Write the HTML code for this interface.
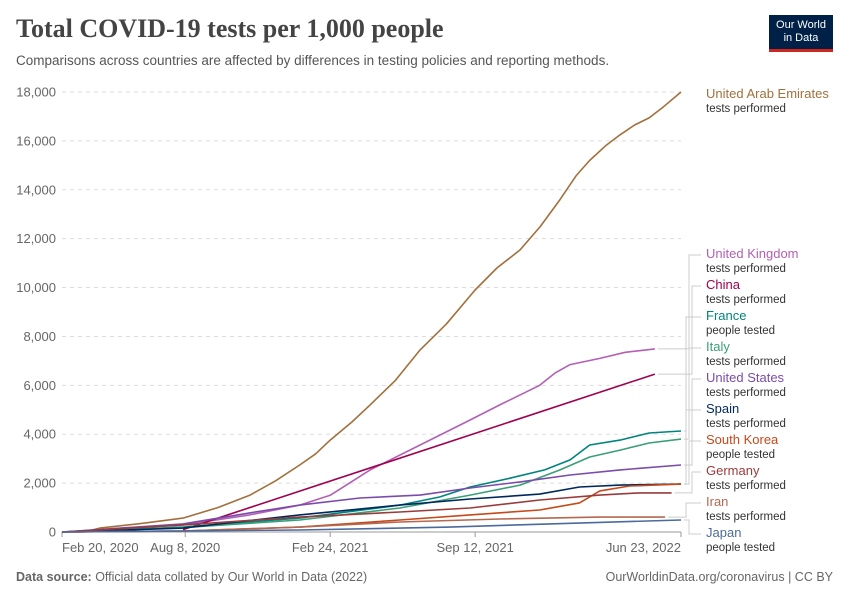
<!DOCTYPE html>
<html><head><meta charset="utf-8"><style>
body{margin:0;background:#fff;width:850px;height:600px;overflow:hidden;font-family:"Liberation Sans",sans-serif;}
#t{position:absolute;left:16px;top:14px;font-family:"Liberation Serif",serif;font-size:26px;font-weight:bold;color:#444;}
#s{position:absolute;left:16px;top:53px;font-size:13.5px;color:#555;}
#logo{position:absolute;left:769px;top:15px;width:64px;height:37px;background:#002147;color:#fff;font-size:11px;text-align:center;line-height:13px;padding-top:4px;box-sizing:border-box;border-bottom:3px solid #ce261e;}
#fl{position:absolute;left:16px;top:570px;font-size:12.5px;color:#666;}
#fr{position:absolute;right:17px;top:570px;font-size:12.5px;color:#666;}
</style></head><body>
<div id="t">Total COVID-19 tests per 1,000 people</div>
<div id="s">Comparisons across countries are affected by differences in testing policies and reporting methods.</div>
<div id="logo">Our World<br>in Data</div>
<div id="fl"><b>Data source:</b> Official data collated by Our World in Data (2022)</div>
<div id="fr">OurWorldinData.org/coronavirus | CC BY</div>
<svg id="c" width="850" height="600" style="position:absolute;left:0;top:0"></svg>
<script>
const yTicks=[0,2000,4000,6000,8000,10000,12000,14000,16000,18000];
const xTickDays=[0,170,370,570,854];
const xTickLabels=["Feb 20, 2020","Aug 8, 2020","Feb 24, 2021","Sep 12, 2021","Jun 23, 2022"];
const seriesNames=["United Arab Emirates","United Kingdom","China","France","Italy","United States","Spain","South Korea","Germany","Iran","Japan"];
const seriesSub=["tests performed","tests performed","tests performed","people tested","tests performed","tests performed","tests performed","people tested","tests performed","tests performed","people tested"];
const seriesColors=["#a2703c","#b35fb4","#a0004f","#00847e","#3a9f77","#7b4bab","#00295b","#c6491a","#9a3b3b","#b46850","#4c6a9c"];
const uae=[[0,0],[30,0],[52,160],[110,350],[167,570],[215,1000],[259,1500],[295,2100],[328,2740],[350,3200],[370,3760],[400,4500],[425,5200],[460,6200],[494,7450],[530,8500],[570,9900],[600,10800],[632,11540],[660,12500],[687,13600],[710,14600],[728,15200],[750,15800],[770,16250],[790,16650],[810,16940],[830,17400],[854,18000]];
const uk=[[0,0],[167,290],[259,700],[328,1100],[370,1500],[425,2540],[494,3560],[563,4580],[604,5200],[659,6000],[680,6500],[701,6850],[742,7100],[777,7350],[818,7490]];
const china=[[167,100],[818,6460]];
const france=[[0,0],[167,200],[328,570],[466,1100],[521,1430],[563,1840],[618,2200],[666,2540],[701,2950],[728,3560],[770,3760],[810,4050],[854,4130]];
const italy=[[0,0],[167,180],[328,490],[466,980],[563,1510],[632,1920],[687,2540],[728,3070],[770,3350],[810,3640],[854,3800]];
const us=[[0,0],[167,330],[259,780],[328,1100],[411,1390],[494,1510],[563,1800],[632,2050],[701,2330],[770,2540],[854,2740]];
const spain=[[0,0],[167,160],[328,700],[466,1100],[563,1350],[659,1550],[714,1840],[770,1920],[854,1960]];
const korea=[[0,0],[167,40],[328,200],[466,490],[563,700],[659,900],[714,1190],[742,1680],[783,1880],[854,1960]];
const germany=[[0,0],[167,290],[328,610],[466,820],[563,980],[659,1310],[742,1510],[797,1600],[841,1600]];
const iran=[[0,0],[167,40],[328,200],[466,410],[604,530],[742,610],[832,610]];
const japan=[[0,0],[328,80],[535,200],[673,330],[854,490]];
const allSeries=[uae,uk,china,france,italy,us,spain,korea,germany,iran,japan];
const labelY=[93,253,284,315,346,377,408,439,470,501,532];
const X0=62,X1=681,Y0=532,Y1=92,DMAX=854,VMAX=18000;
const xs=d=>X0+d/DMAX*(X1-X0), ys=v=>Y0-v/VMAX*(Y0-Y1);
const svg=document.getElementById('c'),NS="http://www.w3.org/2000/svg";
function mk(t,a,p){const e=document.createElementNS(NS,t);for(const k in a)e.setAttribute(k,a[k]);(p||svg).appendChild(e);return e;}
yTicks.forEach((v,i)=>{
 if(v>0){const g=mk('line',{x1:X0,x2:X1,y1:ys(v),y2:ys(v),stroke:'#ddd','stroke-dasharray':'4,4'});
 
 }
 const t=mk('text',{x:56,y:ys(v)+4.5,'text-anchor':'end','font-size':13,fill:'#666'});t.textContent=v.toLocaleString('en-US');
 
 
});
const ax=mk('line',{x1:X0,x2:X1,y1:Y0,y2:Y0,stroke:'#999'});


xTickDays.forEach((d,i)=>{
 mk('line',{x1:xs(d),x2:xs(d),y1:Y0,y2:Y0+5,stroke:'#999'});
 const anchor=i==0?'start':(i==xTickDays.length-1?'end':'middle');
 const t=mk('text',{x:xs(d),y:Y0+20,'text-anchor':anchor,'font-size':13,fill:'#666'});t.textContent=xTickLabels[i];
 
 
});
allSeries.forEach((s,i)=>{
 const p=mk('path',{d:s.map((q,j)=>(j?'L':'M')+xs(q[0]).toFixed(1)+','+ys(q[1]).toFixed(1)).join(''),fill:'none',stroke:seriesColors[i],'stroke-width':1.6,'stroke-linejoin':'round'});
 
 
 const last=s[s.length-1],ey=ys(last[1]),ly=labelY[i]+2;
 if(i>0){const bx=686+(i%3)*3;
  mk('path',{d:`M${xs(last[0])+3},${ey}H${bx}V${ly}H701`,fill:'none',stroke:'#ccc'});}
 const t1=mk('text',{x:706,y:labelY[i]+5,'font-size':13,fill:seriesColors[i]});t1.textContent=seriesNames[i];
 
 
 const t2=mk('text',{x:706,y:labelY[i]+19,'font-size':11.5,fill:'#333'});t2.textContent=seriesSub[i];
 
 
});
</script>
</body></html>
